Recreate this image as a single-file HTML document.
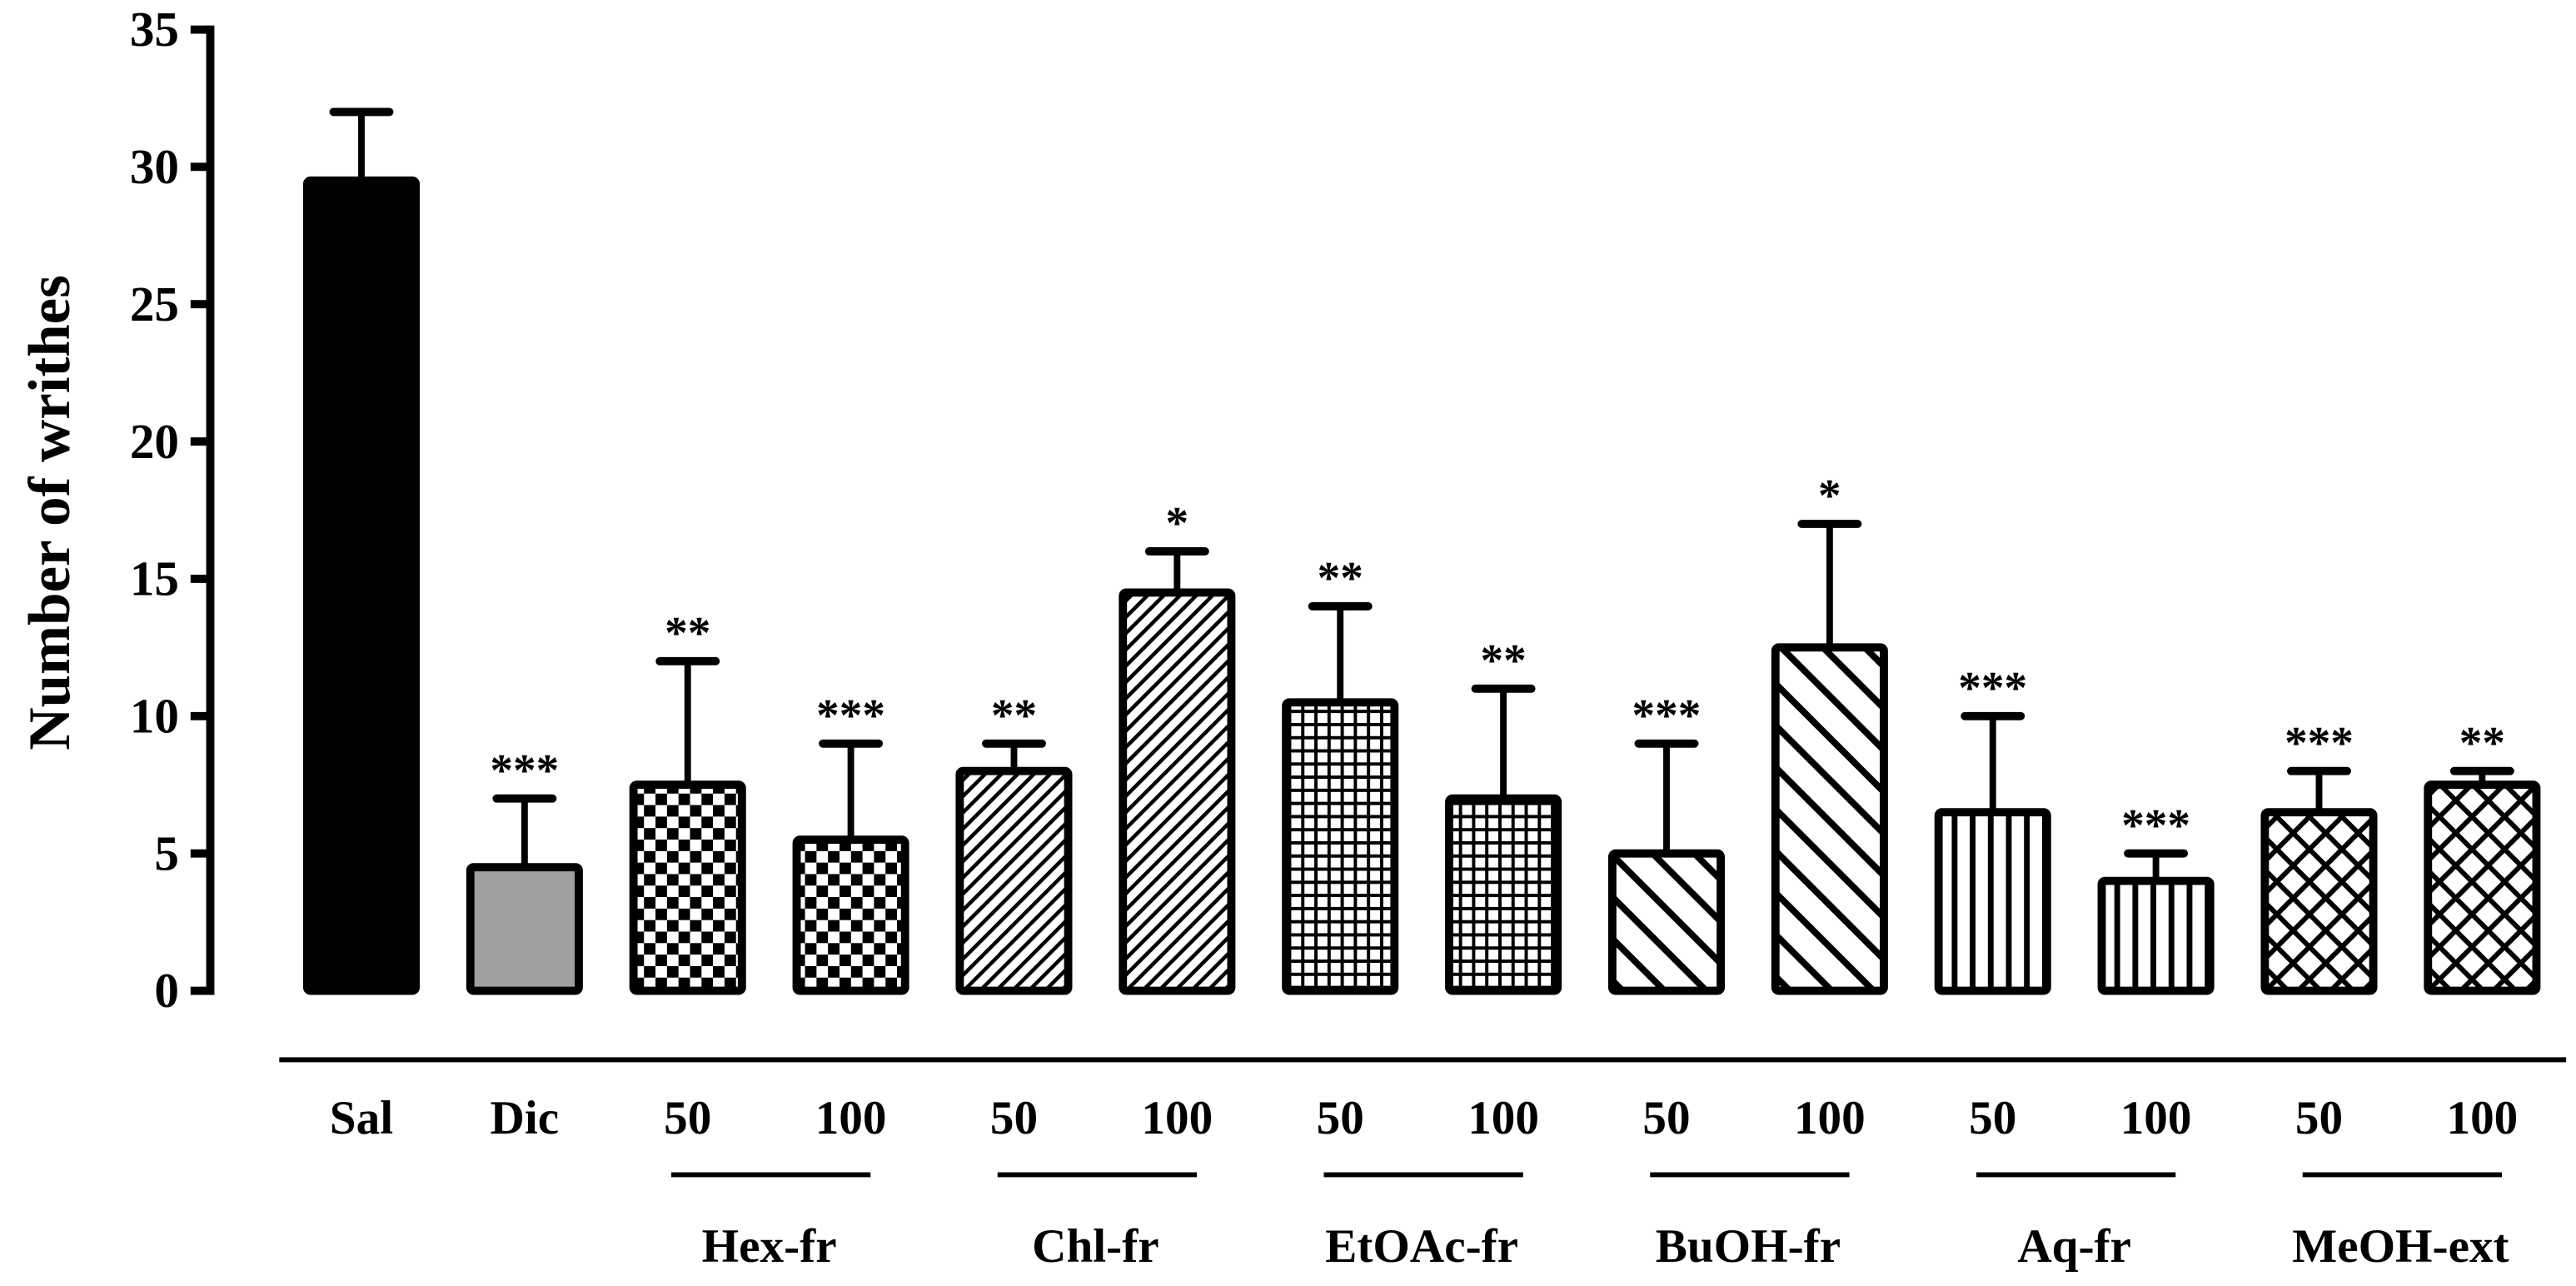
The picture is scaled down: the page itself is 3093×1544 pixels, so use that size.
<!DOCTYPE html>
<html><head><meta charset="utf-8"><style>
html,body{margin:0;padding:0;background:#fff;}
svg{display:block;}
text{font-family:"Liberation Serif",serif;font-weight:bold;fill:#000;}
</style></head><body>
<svg id="chart" width="3093" height="1544" viewBox="0 0 1568 782.7" preserveAspectRatio="none" xmlns="http://www.w3.org/2000/svg">
<defs>
<pattern id="p-check" patternUnits="userSpaceOnUse" width="14" height="14"><rect width="14" height="14" fill="#fff"/><rect width="7" height="7" fill="#000"/><rect x="7" y="7" width="7" height="7" fill="#000"/></pattern>
<pattern id="p-fwd" patternUnits="userSpaceOnUse" width="7" height="7" patternTransform="rotate(45)"><rect width="7" height="7" fill="#fff"/><rect width="2.3" height="7" fill="#000"/></pattern>
<pattern id="p-grid" patternUnits="userSpaceOnUse" width="8" height="8"><rect width="8" height="8" fill="#fff"/><rect width="2" height="8" fill="#000"/><rect width="8" height="2" fill="#000"/></pattern>
<pattern id="p-back" patternUnits="userSpaceOnUse" width="18" height="18" patternTransform="rotate(-45)"><rect width="18" height="18" fill="#fff"/><rect width="4" height="18" fill="#000"/></pattern>
<pattern id="p-vert" patternUnits="userSpaceOnUse" width="11" height="11"><rect width="11" height="11" fill="#fff"/><rect width="3.5" height="11" fill="#000"/></pattern>
<pattern id="p-cross" patternUnits="userSpaceOnUse" width="14" height="14" patternTransform="rotate(45)"><rect width="14" height="14" fill="#fff"/><rect width="3" height="14" fill="#000"/><rect width="14" height="3" fill="#000"/></pattern>
</defs>
<g id="axes"></g>
<g id="bars"></g>
</svg>
<script>
const categories = ["Sal","Dic","50","100","50","100","50","100","50","100","50","100","50","100"];
const means = [29.5,4.5,7.5,5.5,8,14.5,10.5,7,5,12.5,6.5,4,6.5,7.5];
const errTops = [32,7,12,9,9,16,14,11,9,17,10,5,8,8];
const stars = ["","***","**","***","**","*","**","**","***","*","***","***","***","**"];
const fills = ["#000","#a0a0a2","url(#p-check)","url(#p-check)","url(#p-fwd)","url(#p-fwd)","url(#p-grid)","url(#p-grid)","url(#p-back)","url(#p-back)","url(#p-vert)","url(#p-vert)","url(#p-cross)","url(#p-cross)"];
const groups = ["Hex-fr","Chl-fr","EtOAc-fr","BuOH-fr","Aq-fr","MeOH-ext"];
const yTicks = [0,5,10,15,20,25,30,35];

const NS="http://www.w3.org/2000/svg";
const y0=603, yTop=18, yMax=35;
function y(v){return y0-(v/yMax)*(y0-yTop);}
function xc(i){return 220+i*99.3;}
const bw=66;
function mk(tag,attrs,parent,txt){const e=document.createElementNS(NS,tag);for(const k in attrs)e.setAttribute(k,attrs[k]);if(txt!==undefined)e.textContent=txt;parent.appendChild(e);return e;}
const ax=document.getElementById('axes'), bg=document.getElementById('bars');

let l=mk('line',{x1:128,y1:yTop,x2:128,y2:y0,stroke:'#000','stroke-width':5,'stroke-linecap':'square'},ax);


yTicks.forEach(v=>{
  let t=mk('line',{x1:116,y1:y(v),x2:128,y2:y(v),stroke:'#000','stroke-width':5},ax);
  
  
  let tx=mk('text',{x:109,y:y(v)+10,'text-anchor':'end','font-size':30},ax,String(v));
  
  
});
let yt=mk('text',{x:0,y:0,'text-anchor':'middle','font-size':36,transform:'translate(42,312) rotate(-90)'},ax,'Number of writhes');


let xl=mk('line',{x1:170,y1:645,x2:1562,y2:645,stroke:'#000','stroke-width':3},ax);



categories.forEach((c,i)=>{
  const cx=xc(i);
  let eb=mk('line',{x1:cx,y1:y(means[i]),x2:cx,y2:y(errTops[i]),stroke:'#000','stroke-width':4},bg);
  
  
  let cap=mk('line',{x1:cx-17,y1:y(errTops[i]),x2:cx+17,y2:y(errTops[i]),stroke:'#000','stroke-width':5,'stroke-linecap':'round'},bg);
  
  
  let r=mk('rect',{x:cx-bw/2,y:y(means[i]),width:bw,height:y0-y(means[i]),fill:fills[i],stroke:'#000','stroke-width':5,rx:2},bg);
  
  
  if(stars[i]){
    let s=mk('text',{x:cx,y:y(errTops[i])-8,'text-anchor':'middle','font-size':28,'font-weight':'normal','font-family':'"Liberation Sans",sans-serif'},bg,stars[i]);
    
    
  }
  let lab=mk('text',{x:cx,y:690,'text-anchor':'middle','font-size':29},ax,c);
  
  
});
groups.forEach((g,j)=>{
  const a=xc(2+2*j), b=xc(3+2*j);
  let gl=mk('line',{x1:a-10,y1:715,x2:b+12,y2:715,stroke:'#000','stroke-width':3},ax);
  
  
  let gt=mk('text',{x:(a+b)/2,y:768,'text-anchor':'middle','font-size':29},ax,g);
  
  
});
</script>
</body></html>
